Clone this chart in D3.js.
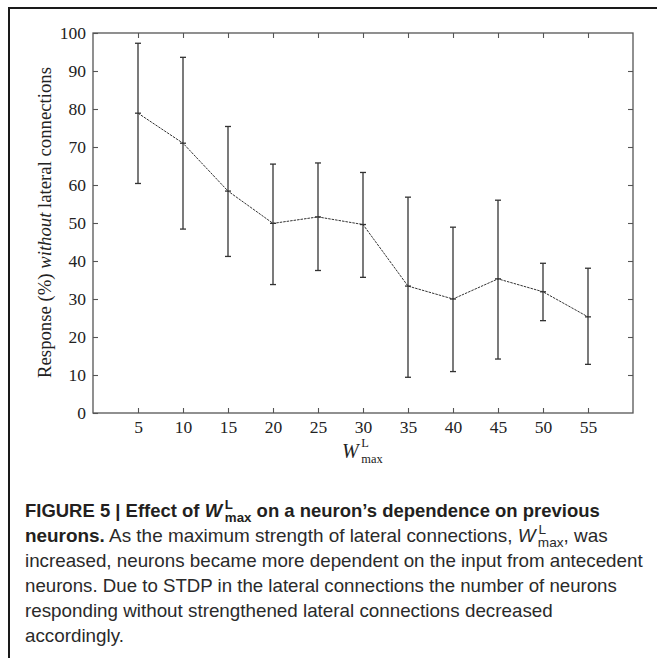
<!DOCTYPE html>
<html>
<head>
<meta charset="utf-8">
<script src="https://cdn.jsdelivr.net/npm/d3@7"></script>
<style>
  html, body { margin: 0; padding: 0; background: #fff; }
  svg { display: block; }
</style>
</head>
<body>
<svg id="chart" width="657" height="658"></svg>
<script>
// ---- data ----
const wmax   = [5, 10, 15, 20, 25, 30, 35, 40, 45, 50, 55];
const meanResp  = [78.9, 71.0, 58.4, 49.9, 51.6, 49.6, 33.4, 30.0, 35.3, 31.9, 25.3];
const upperResp = [97.3, 93.6, 75.4, 65.5, 65.8, 63.3, 56.8, 48.9, 56.0, 39.4, 38.1];
const lowerResp = [60.4, 48.4, 41.2, 33.8, 37.5, 35.7, 9.4, 10.9, 14.2, 24.3, 12.8];
const xTicks = [5, 10, 15, 20, 25, 30, 35, 40, 45, 50, 55];
const yTicks = [0, 10, 20, 30, 40, 50, 60, 70, 80, 90, 100];

const svg = d3.select("#chart");

// fit a text element (whose children use em-relative sizes) to a target width
function fit(t, target) {
  const w = t.node().getBBox().width;
  const fs = parseFloat(t.style("font-size"));
  const nfs = fs * target / w;
  t.style("font-size", nfs + "px");
  return nfs;
}

// ---- outer frame (top + left rule) ----
svg.append("line").attr("x1", 8).attr("x2", 657).attr("y1", 8).attr("y2", 8)
  .attr("stroke", "#1a1a1a").attr("stroke-width", 2);
svg.append("line").attr("x1", 9).attr("x2", 9).attr("y1", 7).attr("y2", 658)
  .attr("stroke", "#1a1a1a").attr("stroke-width", 2);

// ---- plot ----
const L = 93, R = 633, T = 33, B = 413;
const x = d3.scaleLinear().domain([0, 60]).range([L, R]);
const y = d3.scaleLinear().domain([0, 100]).range([B, T]);

const axisColor = "#555";
const serif = "'Liberation Serif', 'DejaVu Serif', serif";

function styleAxis(g, showLabels) {
  g.select(".domain").remove();
  g.selectAll(".tick line").attr("stroke", axisColor).attr("stroke-width", 1.1);
  g.selectAll(".tick text").attr("fill", "#222").style("font-family", serif).style("font-size", "17.5px");
  if (!showLabels) g.selectAll(".tick text").remove();
}

svg.append("g").attr("transform", `translate(${L},0)`)
  .call(d3.axisLeft(y).tickValues(yTicks).tickSize(-5).tickPadding(7))
  .call(g => styleAxis(g, true));
svg.append("g").attr("transform", `translate(${R},0)`)
  .call(d3.axisRight(y).tickValues(yTicks.slice(1, -1)).tickSize(-5))
  .call(g => styleAxis(g, false));
svg.append("g").attr("transform", `translate(0,${B})`)
  .call(d3.axisBottom(x).tickValues(xTicks).tickSize(-5).tickPadding(8))
  .call(g => styleAxis(g, true));
svg.append("g").attr("transform", `translate(0,${T})`)
  .call(d3.axisTop(x).tickValues(xTicks).tickSize(-5))
  .call(g => styleAxis(g, false));

svg.append("rect").attr("x", L).attr("y", T).attr("width", R - L).attr("height", B - T)
  .attr("fill", "none").attr("stroke", axisColor).attr("stroke-width", 1.3);

// error bars
const pts = wmax.map((w, i) => ({ w, m: meanResp[i], hi: upperResp[i], lo: lowerResp[i] }));
const eb = svg.append("g").attr("stroke", "#333").attr("stroke-width", 1.3);
pts.forEach(p => {
  eb.append("line").attr("x1", x(p.w)).attr("x2", x(p.w)).attr("y1", y(p.hi)).attr("y2", y(p.lo));
  eb.append("line").attr("x1", x(p.w) - 3).attr("x2", x(p.w) + 3).attr("y1", y(p.hi)).attr("y2", y(p.hi));
  eb.append("line").attr("x1", x(p.w) - 3).attr("x2", x(p.w) + 3).attr("y1", y(p.lo)).attr("y2", y(p.lo));
  eb.append("line").attr("x1", x(p.w) - 3).attr("x2", x(p.w) + 3).attr("y1", y(p.m)).attr("y2", y(p.m));
});

// mean line
svg.append("path").datum(pts)
  .attr("d", d3.line().x(d => x(d.w)).y(d => y(d.m)))
  .attr("fill", "none").attr("stroke", "#333").attr("stroke-width", 1)
  .attr("stroke-dasharray", "2.5,1");

// y-axis label
const yl = svg.append("text")
  .attr("transform", `translate(51,222.5) rotate(-90)`)
  .attr("text-anchor", "middle")
  .style("font-family", serif).style("font-size", "18px").attr("fill", "#222");
yl.append("tspan").text("Response (%) ");
yl.append("tspan").style("font-style", "italic").text("without");
yl.append("tspan").text(" lateral connections");
fit(yl, 311);

// x-axis label
const xl = svg.append("text").attr("x", 342).attr("y", 458)
  .style("font-family", serif).style("font-size", "20px").attr("fill", "#222");
xl.append("tspan").style("font-style", "italic").text("W");
xl.append("tspan").attr("dx", "0.2em").attr("dy", "-0.85em").style("font-size", "0.62em").text("L");
xl.append("tspan").attr("dx", "-0.6em").attr("dy", "1.25em").style("font-size", "0.62em").text("max");

// ---- caption ----
const sans = "'Liberation Sans', Arial, sans-serif";
const cap = svg.append("g").style("font-family", sans).attr("fill", "#231f20");

function wsym(t, bold) {
  const fw = bold ? "bold" : "normal";
  t.append("tspan").style("font-style", "italic").style("font-weight", fw).text("W");
  t.append("tspan").attr("dx", "0.2em").attr("dy", "-0.6em").style("font-size", "0.72em").style("font-weight", fw).text("L");
  t.append("tspan").attr("dx", "-0.6em").attr("dy", "0.95em").style("font-size", "0.72em").style("font-weight", fw).text("max");
}

const l1 = cap.append("text").attr("x", 25).attr("y", 517).style("font-size", "18px").style("font-weight", "bold");
l1.append("tspan").text("FIGURE 5 | Effect of ");
wsym(l1, true);
l1.append("tspan").attr("dy", "-0.25em").text(" on a neuron\u2019s dependence on previous");
fit(l1, 575);

const l2 = cap.append("text").attr("x", 25).attr("y", 542).style("font-size", "18px").attr("fill", "#2a2a2a");
l2.append("tspan").style("font-weight", "bold").attr("fill", "#231f20").text("neurons.");
l2.append("tspan").text(" As the maximum strength of lateral connections, ");
wsym(l2, false);
l2.append("tspan").attr("dy", "-0.25em").text(", was");
fit(l2, 583);

const bodyLines = [
  "increased, neurons became more dependent on the input from antecedent",
  "neurons. Due to STDP in the lateral connections the number of neurons",
  "responding without strengthened lateral connections decreased",
  "accordingly."
];
const bodyWidths = [618, 592, 528];
let lastSize = 18;
bodyLines.forEach((s, i) => {
  const t = cap.append("text").attr("x", 25).attr("y", 567 + i * 25)
    .style("font-size", "18px").attr("fill", "#2a2a2a").text(s);
  if (i < bodyWidths.length) lastSize = fit(t, bodyWidths[i]);
  else t.style("font-size", lastSize + "px");
});
</script>
</body>
</html>
